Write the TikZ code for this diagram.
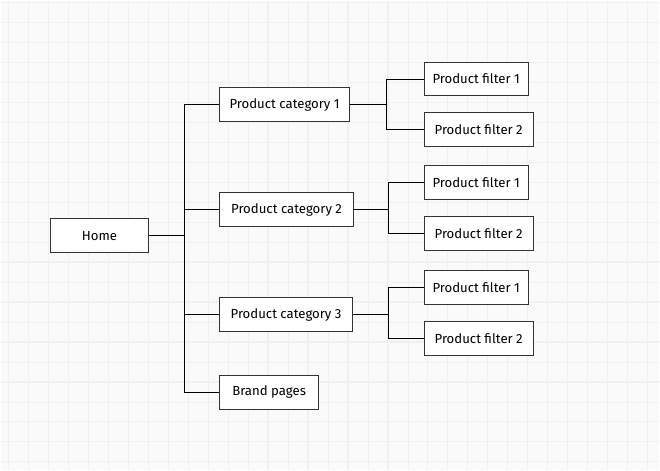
\documentclass[tikz,border=0pt]{standalone}
\usepackage{fontspec}
\setmainfont{Fira Sans}
\usepackage{xcolor}
\definecolor{sitebg}{HTML}{FAFAFA}
\definecolor{sitegrid}{HTML}{F0F0F0}
\definecolor{siteedge}{HTML}{333333}
\usepackage{tikz}
\usetikzlibrary{positioning}
\tikzset{
  pagebox/.style={draw=siteedge,fill=white,line width=1pt,minimum height=34pt,inner sep=0pt,anchor=north west,font=\fontsize{13.2}{15}\selectfont},
  treelink/.style={draw=black,line width=0.9pt},
}

\begin{document}
\begin{tikzpicture}[x=1pt,y=-1pt]
 % grid paper
\fill[sitebg] (0,0) rectangle (660,470);
\foreach \gx in {8,48,...,648} \draw[sitegrid,line width=0.7pt] (\gx,0) -- (\gx,470);
\foreach \gx in {28,68,...,628} \draw[sitegrid,line width=1.3pt] (\gx,0) -- (\gx,470);
\foreach \gy in {2,42,...,462} \draw[sitegrid,line width=0.7pt] (0,\gy) -- (660,\gy);
\foreach \gy in {22,62,...,462} \draw[sitegrid,line width=1.3pt] (0,\gy) -- (660,\gy);
\useasboundingbox (0,0) rectangle (660,470);
 % pages
\node[pagebox,minimum width=99pt] (home) at (49,218) {Home};
\node[pagebox,minimum width=130pt] (cat1) at (219,87) {Product category 1};
\node[pagebox,minimum width=134pt] (cat2) at (219,192) {Product category 2};
\node[pagebox,minimum width=133pt] (cat3) at (219,297) {Product category 3};
\node[pagebox,minimum width=99pt] (brand) at (219,375) {Brand pages};
\node[pagebox,minimum width=104pt] (f11) at (424,61) {Product filter 1};
\node[pagebox,minimum width=109pt] (f12) at (424,112) {Product filter 2};
\node[pagebox,minimum width=104pt] (f21) at (424,165) {Product filter 1};
\node[pagebox,minimum width=109pt] (f22) at (424,216) {Product filter 2};
\node[pagebox,minimum width=104pt] (f31) at (424,270) {Product filter 1};
\node[pagebox,minimum width=109pt] (f32) at (424,321) {Product filter 2};
 % tree links
\coordinate (trunk) at (184,0);
\coordinate (b1) at (387,0);
\coordinate (b2) at (389,0);
\foreach \c in {cat1,cat2,cat3,brand}
  \draw[treelink] (home.east) -- (home.east -| trunk) |- (\c.west);
\draw[treelink] (cat1.east) -- (cat1.east -| b1) |- (f11.west);
\draw[treelink] (cat1.east) -- (cat1.east -| b1) |- (f12.west);
\draw[treelink] (cat2.east) -- (cat2.east -| b2) |- (f21.west);
\draw[treelink] (cat2.east) -- (cat2.east -| b2) |- (f22.west);
\draw[treelink] (cat3.east) -- (cat3.east -| b2) |- (f31.west);
\draw[treelink] (cat3.east) -- (cat3.east -| b2) |- (f32.west);
\end{tikzpicture}
\end{document}
